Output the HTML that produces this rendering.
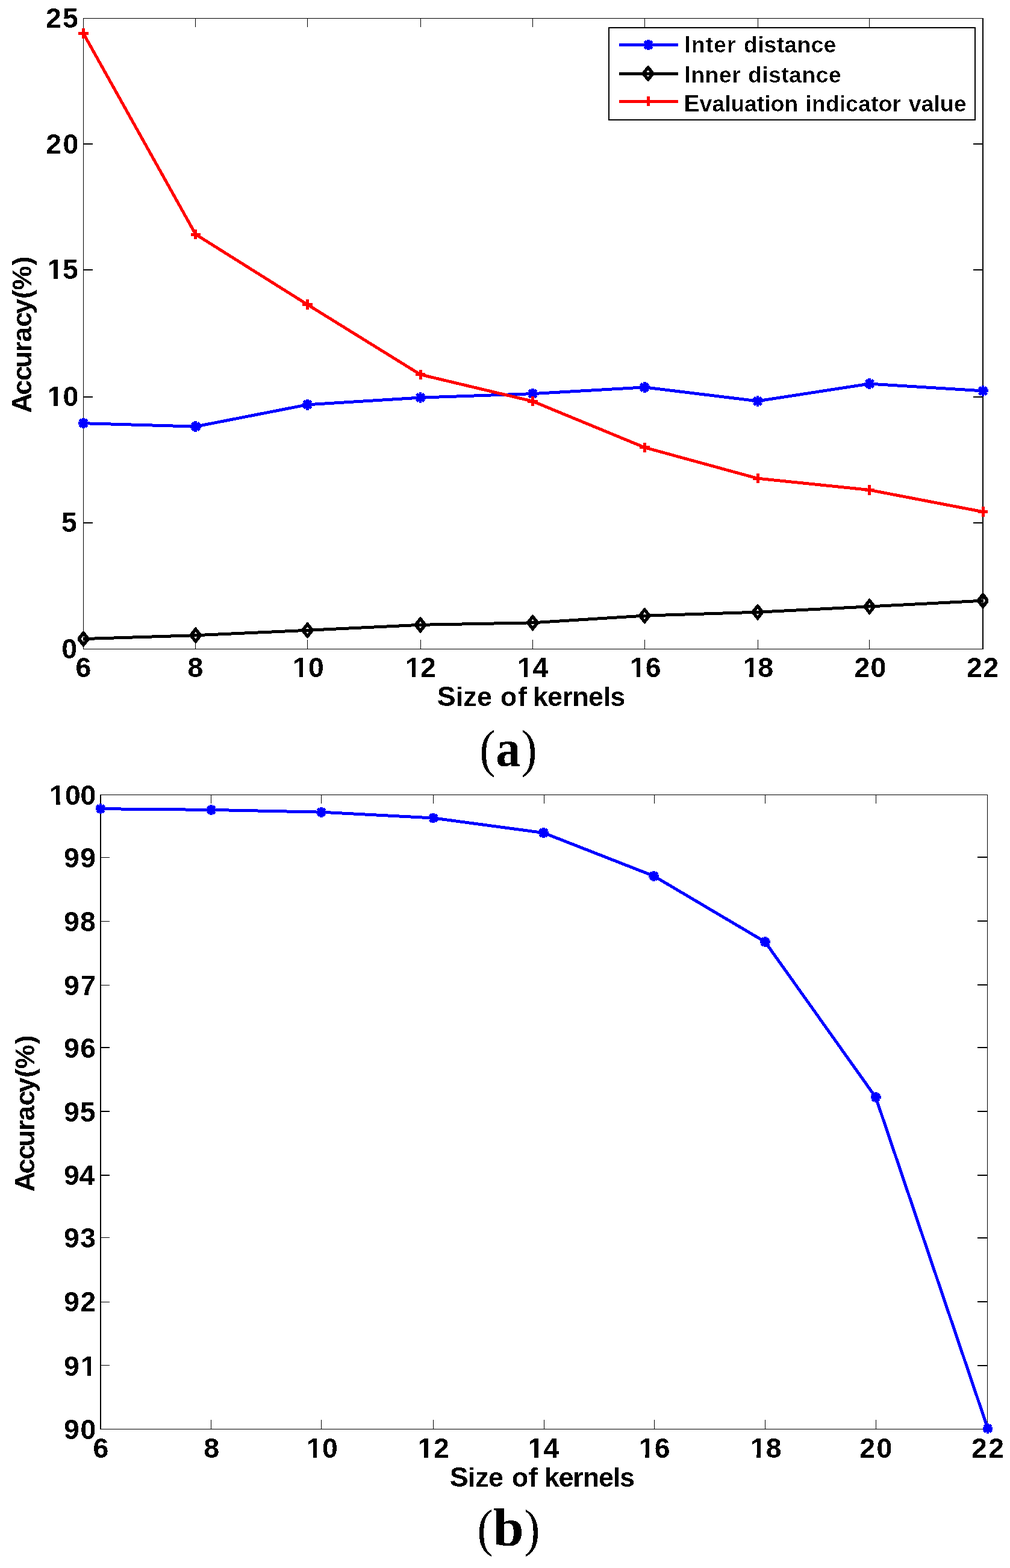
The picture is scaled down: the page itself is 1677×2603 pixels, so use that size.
<!DOCTYPE html>
<html lang="en">
<head>
<meta charset="utf-8">
<title>Size of kernels vs. accuracy</title>
<style>
html,body{margin:0;padding:0;background:#fff;}
body{width:1677px;height:2603px;}
svg{display:block;}
svg .axes rect,svg .series polyline,svg .series path,svg .legend rect,svg .legend path{shape-rendering:crispEdges;}
svg text{font-family:"Liberation Sans",Arial,Helvetica,sans-serif;font-weight:bold;fill:#000;font-kerning:none;white-space:pre;}
svg g.txt{filter:url(#crisp);}
svg g.thin{filter:url(#crisp-thin);}
svg text.cap{font-family:"Liberation Serif","Times New Roman",serif;font-weight:normal;}
svg path.dm{shape-rendering:geometricPrecision!important;filter:url(#crisp-m);}
</style>
</head>
<body>
<svg width="1677" height="2603" viewBox="0 0 1677 2603" role="img" aria-label="Two line charts: (a) inter distance, inner distance and evaluation indicator value versus size of kernels; (b) accuracy versus size of kernels">
<defs>
<filter id="crisp" filterUnits="userSpaceOnUse" x="0" y="0" width="1677" height="2603" color-interpolation-filters="sRGB">
<feComponentTransfer><feFuncA type="discrete" tableValues="0 0 0 0 0 1 1 1 1 1"/></feComponentTransfer>
</filter>
<filter id="crisp-thin" filterUnits="userSpaceOnUse" x="0" y="0" width="1677" height="2603" color-interpolation-filters="sRGB">
<feComponentTransfer><feFuncA type="discrete" tableValues="0 0 0 0 0 0 0 1 1 1"/></feComponentTransfer>
</filter>
<filter id="crisp-m" x="-25%" y="-25%" width="150%" height="150%" color-interpolation-filters="sRGB">
<feComponentTransfer><feFuncA type="discrete" tableValues="0 0 0 0 0 1 1 1 1 1"/></feComponentTransfer>
</filter>
<clipPath id="k1" clipPathUnits="userSpaceOnUse"><path clip-rule="evenodd" d="M58.53 403.1H149.44V493.1H58.53ZM79 457H89V466.1H79ZM96 457H106V466.1H96Z"/></clipPath>
<clipPath id="k2" clipPathUnits="userSpaceOnUse"><path clip-rule="evenodd" d="M58.53 614.4H150.67V704.4H58.53ZM79 668H89V677.4H79ZM96 668H106V677.4H96Z"/></clipPath>
<clipPath id="k3" clipPathUnits="userSpaceOnUse"><path clip-rule="evenodd" d="M465.93 1063.8H558.27V1153.8H465.93ZM486 1118H497V1126.8H486ZM503 1118H513V1126.8H503Z"/></clipPath>
<clipPath id="k4" clipPathUnits="userSpaceOnUse"><path clip-rule="evenodd" d="M653.23 1063.8H742.88V1153.8H653.23ZM674 1118H684V1126.8H674ZM690 1118H700V1126.8H690Z"/></clipPath>
<clipPath id="k5" clipPathUnits="userSpaceOnUse"><path clip-rule="evenodd" d="M839.23 1063.8H929.66V1153.8H839.23ZM860 1118H870V1126.8H860ZM876 1118H886V1126.8H876Z"/></clipPath>
<clipPath id="k6" clipPathUnits="userSpaceOnUse"><path clip-rule="evenodd" d="M1025.93 1063.8H1117.81V1153.8H1025.93ZM1046 1118H1057V1126.8H1046ZM1063 1118H1073V1126.8H1063Z"/></clipPath>
<clipPath id="k7" clipPathUnits="userSpaceOnUse"><path clip-rule="evenodd" d="M1213.63 1063.8H1302.82V1153.8H1213.63ZM1234 1118H1244V1126.8H1234ZM1251 1118H1261V1126.8H1251Z"/></clipPath>
<clipPath id="k8" clipPathUnits="userSpaceOnUse"><path clip-rule="evenodd" d="M62.33 1275.8H179.08V1365.8H62.33ZM83 1330H93V1338.8H83ZM100 1330H109V1338.8H100Z"/></clipPath>
<clipPath id="k9" clipPathUnits="userSpaceOnUse"><path clip-rule="evenodd" d="M85.99 2223.5H182.02V2313.5H85.99ZM134 2277H145V2286.5H134ZM151 2277H161V2286.5H151Z"/></clipPath>
<clipPath id="k10" clipPathUnits="userSpaceOnUse"><path clip-rule="evenodd" d="M489.03 2359.8H580.77V2449.8H489.03ZM509 2414H520V2422.8H509ZM526 2414H536V2422.8H526Z"/></clipPath>
<clipPath id="k11" clipPathUnits="userSpaceOnUse"><path clip-rule="evenodd" d="M673.53 2359.8H766.58V2449.8H673.53ZM694 2414H704V2422.8H694ZM711 2414H721V2422.8H711Z"/></clipPath>
<clipPath id="k12" clipPathUnits="userSpaceOnUse"><path clip-rule="evenodd" d="M856.53 2359.8H948.36V2449.8H856.53ZM877 2414H887V2422.8H877ZM894 2414H904V2422.8H894Z"/></clipPath>
<clipPath id="k13" clipPathUnits="userSpaceOnUse"><path clip-rule="evenodd" d="M1040.63 2359.8H1133.11V2449.8H1040.63ZM1061 2414H1071V2422.8H1061ZM1078 2414H1088V2422.8H1078Z"/></clipPath>
<clipPath id="k14" clipPathUnits="userSpaceOnUse"><path clip-rule="evenodd" d="M1225.63 2359.8H1317.82V2449.8H1225.63ZM1246 2414H1256V2422.8H1246ZM1263 2414H1273V2422.8H1263Z"/></clipPath>
</defs>
<rect x="0" y="0" width="1677" height="2603" fill="#fff"/>
<g id="chart-a">
<g class="axes">
<rect x="138" y="30" width="1495.2" height="1" fill="#000"/>
<rect x="138" y="1077" width="1495.2" height="1" fill="#000"/>
<rect x="138" y="30.5" width="1" height="1047" fill="#000"/>
<rect x="1631.2" y="30.5" width="2" height="1047" fill="#000"/>
<rect x="324.3" y="30.5" width="1" height="14.5" fill="#000"/>
<rect x="324.3" y="1062.3" width="1" height="15.2" fill="#000"/>
<rect x="510" y="30.5" width="1" height="14.5" fill="#000"/>
<rect x="510" y="1062.3" width="1" height="15.2" fill="#000"/>
<rect x="697.5" y="30.5" width="1" height="14.5" fill="#000"/>
<rect x="697.5" y="1062.3" width="1" height="15.2" fill="#000"/>
<rect x="884" y="30.5" width="1" height="14.5" fill="#000"/>
<rect x="884" y="1062.3" width="1" height="15.2" fill="#000"/>
<rect x="1069.8" y="30.5" width="1" height="14.5" fill="#000"/>
<rect x="1069.8" y="1062.3" width="1" height="15.2" fill="#000"/>
<rect x="1257.5" y="30.5" width="1" height="14.5" fill="#000"/>
<rect x="1257.5" y="1062.3" width="1" height="15.2" fill="#000"/>
<rect x="1443.2" y="30.5" width="1" height="14.5" fill="#000"/>
<rect x="1443.2" y="1062.3" width="1" height="15.2" fill="#000"/>
<rect x="138.5" y="238" width="15.2" height="2" fill="#000"/>
<rect x="1616.4" y="238" width="15.8" height="2" fill="#000"/>
<rect x="138.5" y="447" width="15.2" height="2" fill="#000"/>
<rect x="1616.4" y="447" width="15.8" height="2" fill="#000"/>
<rect x="138.5" y="658" width="15.2" height="2" fill="#000"/>
<rect x="1616.4" y="658" width="15.8" height="2" fill="#000"/>
<rect x="138.5" y="867" width="15.2" height="2" fill="#000"/>
<rect x="1616.4" y="867" width="15.8" height="2" fill="#000"/>
</g>
<g class="series">
<polyline fill="none" stroke="#00f" stroke-width="5" stroke-linejoin="round" points="138.5,702.7 324.8,708.1 510.5,671.8 698,660.1 884.5,653.6 1070.3,642.9 1258,665.8 1443.7,637.1 1632,648.9"/>
<polyline fill="none" stroke="#000" stroke-width="5" stroke-linejoin="round" points="138.5,1060.6 324.8,1054.7 510.5,1046.3 698,1037.3 884.5,1033.8 1070.3,1022.1 1258,1016.2 1443.7,1006.9 1632,997.2"/>
<polyline fill="none" stroke="#f00" stroke-width="5" stroke-linejoin="round" points="138.5,55.5 324.8,389 510.5,505.6 698,621.8 884.5,666.2 1070.3,742.8 1258,794.2 1443.7,813.4 1632,849.6"/>
<path d="M129.8 702.7H147.2M138.5 694V711.4M132.24 696.44L144.76 708.96M132.24 708.96L144.76 696.44" stroke="#00f" stroke-width="4.9" fill="none"/>
<circle cx="138.5" cy="702.7" r="6.61" fill="#00f"/>
<path d="M316.1 708.1H333.5M324.8 699.4V716.8M318.54 701.84L331.06 714.36M318.54 714.36L331.06 701.84" stroke="#00f" stroke-width="4.9" fill="none"/>
<circle cx="324.8" cy="708.1" r="6.61" fill="#00f"/>
<path d="M501.8 671.8H519.2M510.5 663.1V680.5M504.24 665.54L516.76 678.06M504.24 678.06L516.76 665.54" stroke="#00f" stroke-width="4.9" fill="none"/>
<circle cx="510.5" cy="671.8" r="6.61" fill="#00f"/>
<path d="M689.3 660.1H706.7M698 651.4V668.8M691.74 653.84L704.26 666.36M691.74 666.36L704.26 653.84" stroke="#00f" stroke-width="4.9" fill="none"/>
<circle cx="698" cy="660.1" r="6.61" fill="#00f"/>
<path d="M875.8 653.6H893.2M884.5 644.9V662.3M878.24 647.34L890.76 659.86M878.24 659.86L890.76 647.34" stroke="#00f" stroke-width="4.9" fill="none"/>
<circle cx="884.5" cy="653.6" r="6.61" fill="#00f"/>
<path d="M1061.6 642.9H1079M1070.3 634.2V651.6M1064.04 636.64L1076.56 649.16M1064.04 649.16L1076.56 636.64" stroke="#00f" stroke-width="4.9" fill="none"/>
<circle cx="1070.3" cy="642.9" r="6.61" fill="#00f"/>
<path d="M1249.3 665.8H1266.7M1258 657.1V674.5M1251.74 659.54L1264.26 672.06M1251.74 672.06L1264.26 659.54" stroke="#00f" stroke-width="4.9" fill="none"/>
<circle cx="1258" cy="665.8" r="6.61" fill="#00f"/>
<path d="M1435 637.1H1452.4M1443.7 628.4V645.8M1437.44 630.84L1449.96 643.36M1437.44 643.36L1449.96 630.84" stroke="#00f" stroke-width="4.9" fill="none"/>
<circle cx="1443.7" cy="637.1" r="6.61" fill="#00f"/>
<path d="M1623.3 648.9H1640.7M1632 640.2V657.6M1625.74 642.64L1638.26 655.16M1625.74 655.16L1638.26 642.64" stroke="#00f" stroke-width="4.9" fill="none"/>
<circle cx="1632" cy="648.9" r="6.61" fill="#00f"/>
<path class="dm" fill-rule="evenodd" fill="#000" d="M129.2 1057.9L137.9 1047L139.1 1047L147.8 1057.9L147.8 1063.3L139.1 1074.2L137.9 1074.2L129.2 1063.3ZM134.6 1060.6L138.5 1054.6L142.4 1060.6L138.5 1066.6Z"/>
<path class="dm" fill-rule="evenodd" fill="#000" d="M315.5 1052L324.2 1041.1L325.4 1041.1L334.1 1052L334.1 1057.4L325.4 1068.3L324.2 1068.3L315.5 1057.4ZM320.9 1054.7L324.8 1048.7L328.7 1054.7L324.8 1060.7Z"/>
<path class="dm" fill-rule="evenodd" fill="#000" d="M501.2 1043.6L509.9 1032.7L511.1 1032.7L519.8 1043.6L519.8 1049L511.1 1059.9L509.9 1059.9L501.2 1049ZM506.6 1046.3L510.5 1040.3L514.4 1046.3L510.5 1052.3Z"/>
<path class="dm" fill-rule="evenodd" fill="#000" d="M688.7 1034.6L697.4 1023.7L698.6 1023.7L707.3 1034.6L707.3 1040L698.6 1050.9L697.4 1050.9L688.7 1040ZM694.1 1037.3L698 1031.3L701.9 1037.3L698 1043.3Z"/>
<path class="dm" fill-rule="evenodd" fill="#000" d="M875.2 1031.1L883.9 1020.2L885.1 1020.2L893.8 1031.1L893.8 1036.5L885.1 1047.4L883.9 1047.4L875.2 1036.5ZM880.6 1033.8L884.5 1027.8L888.4 1033.8L884.5 1039.8Z"/>
<path class="dm" fill-rule="evenodd" fill="#000" d="M1061 1019.4L1069.7 1008.5L1070.9 1008.5L1079.6 1019.4L1079.6 1024.8L1070.9 1035.7L1069.7 1035.7L1061 1024.8ZM1066.4 1022.1L1070.3 1016.1L1074.2 1022.1L1070.3 1028.1Z"/>
<path class="dm" fill-rule="evenodd" fill="#000" d="M1248.7 1013.5L1257.4 1002.6L1258.6 1002.6L1267.3 1013.5L1267.3 1018.9L1258.6 1029.8L1257.4 1029.8L1248.7 1018.9ZM1254.1 1016.2L1258 1010.2L1261.9 1016.2L1258 1022.2Z"/>
<path class="dm" fill-rule="evenodd" fill="#000" d="M1434.4 1004.2L1443.1 993.3L1444.3 993.3L1453 1004.2L1453 1009.6L1444.3 1020.5L1443.1 1020.5L1434.4 1009.6ZM1439.8 1006.9L1443.7 1000.9L1447.6 1006.9L1443.7 1012.9Z"/>
<path class="dm" fill-rule="evenodd" fill="#000" d="M1622.7 994.5L1631.4 983.6L1632.6 983.6L1641.3 994.5L1641.3 999.9L1632.6 1010.8L1631.4 1010.8L1622.7 999.9ZM1628.1 997.2L1632 991.2L1635.9 997.2L1632 1003.2Z"/>
<path d="M130.3 55.5H146.7M138.5 47.3V63.7" stroke="#f00" stroke-width="5" fill="none"/>
<path d="M316.6 389H333M324.8 380.8V397.2" stroke="#f00" stroke-width="5" fill="none"/>
<path d="M502.3 505.6H518.7M510.5 497.4V513.8" stroke="#f00" stroke-width="5" fill="none"/>
<path d="M689.8 621.8H706.2M698 613.6V630" stroke="#f00" stroke-width="5" fill="none"/>
<path d="M876.3 666.2H892.7M884.5 658V674.4" stroke="#f00" stroke-width="5" fill="none"/>
<path d="M1062.1 742.8H1078.5M1070.3 734.6V751" stroke="#f00" stroke-width="5" fill="none"/>
<path d="M1249.8 794.2H1266.2M1258 786V802.4" stroke="#f00" stroke-width="5" fill="none"/>
<path d="M1435.5 813.4H1451.9M1443.7 805.2V821.6" stroke="#f00" stroke-width="5" fill="none"/>
<path d="M1623.8 849.6H1640.2M1632 841.4V857.8" stroke="#f00" stroke-width="5" fill="none"/>
</g>
<g class="legend">
<rect class="box" x="1011" y="46" width="607.5" height="153" fill="#fff" stroke="#000" stroke-width="2"/>
<rect x="1028" y="72" width="98" height="5" fill="#00f"/>
<rect x="1028" y="119.9" width="98" height="5" fill="#000"/>
<rect x="1028" y="166" width="98" height="5" fill="#f00"/>
<path d="M1067.5 74.4H1084.9M1076.2 65.7V83.1M1069.94 68.14L1082.46 80.66M1069.94 80.66L1082.46 68.14" stroke="#00f" stroke-width="4.9" fill="none"/>
<circle cx="1076.2" cy="74.4" r="6.61" fill="#00f"/>
<path class="dm" fill-rule="evenodd" fill="#000" d="M1066.8 119.3L1075.5 108.4L1076.7 108.4L1085.4 119.3L1085.4 124.7L1076.7 135.6L1075.5 135.6L1066.8 124.7ZM1072.2 122L1076.1 116L1080 122L1076.1 128Z"/>
<path d="M1068.3 168.2H1084.7M1076.5 160V176.4" stroke="#f00" stroke-width="5" fill="none"/>
<g class="txt thin">
<text y="87" font-size="37.6"><tspan x="1136.09" style="letter-spacing:0.88px"><tspan font-size="39">I</tspan>nter </tspan><tspan x="1234.86" style="letter-spacing:0.17px">distance</tspan></text>
<text y="136.9" font-size="37.6"><tspan x="1136.09" style="letter-spacing:0.32px"><tspan font-size="39">I</tspan>nner </tspan><tspan x="1242.06" style="letter-spacing:0.31px">distance</tspan></text>
<text y="184.6" font-size="37.6"><tspan x="1135.59" style="letter-spacing:-0.14px"><tspan font-size="39">E</tspan>valuation </tspan><tspan x="1337.17" style="letter-spacing:0.04px">indicator </tspan><tspan x="1508.75" style="letter-spacing:-0.05px">value</tspan></text>
</g>
</g>
<g class="txt">
<g class="ticks">
<text x="75.89" y="45.8" font-size="46.4" style="letter-spacing:2.39px">25</text>
<text x="76.19" y="254.8" font-size="46.4" style="letter-spacing:2.6px">20</text>
<text x="78.53" y="463.1" font-size="46.4" style="letter-spacing:-0.35px" clip-path="url(#k1)">15</text>
<text x="78.53" y="674.4" font-size="46.4" style="letter-spacing:0.26px" clip-path="url(#k2)">10</text>
<text x="102.08" y="882.6" font-size="46.4">5</text>
<text x="102.23" y="1093.4" font-size="46.4">0</text>
<text x="125.59" y="1123.8" font-size="46.4">6</text>
<text x="311.62" y="1123.8" font-size="46.4">8</text>
<text x="485.93" y="1123.8" font-size="46.4" style="letter-spacing:0.36px" clip-path="url(#k3)">10</text>
<text x="673.23" y="1123.8" font-size="46.4" style="letter-spacing:-0.98px" clip-path="url(#k4)">12</text>
<text x="859.23" y="1123.8" font-size="46.4" style="letter-spacing:-0.59px" clip-path="url(#k5)">14</text>
<text x="1045.93" y="1123.8" font-size="46.4" style="letter-spacing:0.14px" clip-path="url(#k6)">16</text>
<text x="1233.63" y="1123.8" font-size="46.4" style="letter-spacing:-1.21px" clip-path="url(#k7)">18</text>
<text x="1418.49" y="1123.8" font-size="46.4" style="letter-spacing:1.2px">20</text>
<text x="1604.89" y="1123.8" font-size="46.4" style="letter-spacing:1.86px">22</text>
</g>
<text y="1171.6" font-size="45"><tspan x="725.66" style="letter-spacing:0.13px"><tspan font-size="46.4">S</tspan>ize </tspan><tspan x="830.74" style="letter-spacing:1.6px">of </tspan><tspan x="884.76" style="letter-spacing:-0.67px">kernels</tspan></text>
<text transform="translate(52 686) rotate(-90)" x="0.3 30.29 53.82 75.39 101.6 118.28 143.27 165.03 189.91 204.53 245.61" y="0" font-size="45"><tspan font-size="46.4">A</tspan>ccuracy(%)</text>
<text class="cap" y="1272.3" font-size="86.1"><tspan x="796.33" font-size="86.1" textLength="26.32" lengthAdjust="spacingAndGlyphs">(</tspan><tspan x="823.35" font-size="86" textLength="41.09" lengthAdjust="spacingAndGlyphs" font-weight="bold">a</tspan><tspan x="865.48" font-size="86.1" textLength="26.06" lengthAdjust="spacingAndGlyphs">)</tspan></text>
</g>
</g>
<g id="chart-b">
<g class="axes">
<rect x="166" y="1319" width="1474.3" height="1" fill="#000"/>
<rect x="166" y="2371.5" width="1474.3" height="1" fill="#000"/>
<rect x="166" y="1319.5" width="2" height="1052.5" fill="#000"/>
<rect x="1638.9" y="1319.5" width="1.4" height="1052.5" fill="#000"/>
<rect x="349.7" y="1319.5" width="1" height="14.6" fill="#000"/>
<rect x="349.7" y="2356.8" width="1" height="15.2" fill="#000"/>
<rect x="533" y="1319.5" width="1" height="14.6" fill="#000"/>
<rect x="533" y="2356.8" width="1" height="15.2" fill="#000"/>
<rect x="718.5" y="1319.5" width="1" height="14.6" fill="#000"/>
<rect x="718.5" y="2356.8" width="1" height="15.2" fill="#000"/>
<rect x="902.5" y="1319.5" width="1" height="14.6" fill="#000"/>
<rect x="902.5" y="2356.8" width="1" height="15.2" fill="#000"/>
<rect x="1085.6" y="1319.5" width="1" height="14.6" fill="#000"/>
<rect x="1085.6" y="2356.8" width="1" height="15.2" fill="#000"/>
<rect x="1270.3" y="1319.5" width="1" height="14.6" fill="#000"/>
<rect x="1270.3" y="2356.8" width="1" height="15.2" fill="#000"/>
<rect x="1454" y="1319.5" width="1" height="14.6" fill="#000"/>
<rect x="1454" y="2356.8" width="1" height="15.2" fill="#000"/>
<rect x="167" y="1422.6" width="14.6" height="1" fill="#000"/>
<rect x="1623.2" y="1422.1" width="16.4" height="2" fill="#000"/>
<rect x="167" y="1528.9" width="14.6" height="1" fill="#000"/>
<rect x="1623.2" y="1528.4" width="16.4" height="2" fill="#000"/>
<rect x="167" y="1634.9" width="14.6" height="1" fill="#000"/>
<rect x="1623.2" y="1634.4" width="16.4" height="2" fill="#000"/>
<rect x="167" y="1737.9" width="14.6" height="2" fill="#000"/>
<rect x="1623.2" y="1737.9" width="16.4" height="2" fill="#000"/>
<rect x="167" y="1843.9" width="14.6" height="2" fill="#000"/>
<rect x="1623.2" y="1843.9" width="16.4" height="2" fill="#000"/>
<rect x="167" y="1949.8" width="14.6" height="2" fill="#000"/>
<rect x="1623.2" y="1949.8" width="16.4" height="2" fill="#000"/>
<rect x="167" y="2054.3" width="14.6" height="1" fill="#000"/>
<rect x="1623.2" y="2053.8" width="16.4" height="2" fill="#000"/>
<rect x="167" y="2160.7" width="14.6" height="1" fill="#000"/>
<rect x="1623.2" y="2160.2" width="16.4" height="2" fill="#000"/>
<rect x="167" y="2266.4" width="14.6" height="1" fill="#000"/>
<rect x="1623.2" y="2265.9" width="16.4" height="2" fill="#000"/>
</g>
<g class="series">
<polyline fill="none" stroke="#00f" stroke-width="5" stroke-linejoin="round" points="167,1342.7 350.8,1344.4 533.6,1348.2 719.6,1358 902.5,1382.6 1085.7,1454.3 1270.4,1563.6 1454.1,1821.7 1640,2371.2"/>
<path d="M158.6 1342.7H175.4M167 1334.3V1351.1M160.95 1336.65L173.05 1348.75M160.95 1348.75L173.05 1336.65" stroke="#00f" stroke-width="4.9" fill="none"/>
<circle cx="167" cy="1342.7" r="6.38" fill="#00f"/>
<path d="M342.4 1344.4H359.2M350.8 1336V1352.8M344.75 1338.35L356.85 1350.45M344.75 1350.45L356.85 1338.35" stroke="#00f" stroke-width="4.9" fill="none"/>
<circle cx="350.8" cy="1344.4" r="6.38" fill="#00f"/>
<path d="M525.2 1348.2H542M533.6 1339.8V1356.6M527.55 1342.15L539.65 1354.25M527.55 1354.25L539.65 1342.15" stroke="#00f" stroke-width="4.9" fill="none"/>
<circle cx="533.6" cy="1348.2" r="6.38" fill="#00f"/>
<path d="M711.2 1358H728M719.6 1349.6V1366.4M713.55 1351.95L725.65 1364.05M713.55 1364.05L725.65 1351.95" stroke="#00f" stroke-width="4.9" fill="none"/>
<circle cx="719.6" cy="1358" r="6.38" fill="#00f"/>
<path d="M894.1 1382.6H910.9M902.5 1374.2V1391M896.45 1376.55L908.55 1388.65M896.45 1388.65L908.55 1376.55" stroke="#00f" stroke-width="4.9" fill="none"/>
<circle cx="902.5" cy="1382.6" r="6.38" fill="#00f"/>
<path d="M1077.3 1454.3H1094.1M1085.7 1445.9V1462.7M1079.65 1448.25L1091.75 1460.35M1079.65 1460.35L1091.75 1448.25" stroke="#00f" stroke-width="4.9" fill="none"/>
<circle cx="1085.7" cy="1454.3" r="6.38" fill="#00f"/>
<path d="M1262 1563.6H1278.8M1270.4 1555.2V1572M1264.35 1557.55L1276.45 1569.65M1264.35 1569.65L1276.45 1557.55" stroke="#00f" stroke-width="4.9" fill="none"/>
<circle cx="1270.4" cy="1563.6" r="6.38" fill="#00f"/>
<path d="M1445.7 1821.7H1462.5M1454.1 1813.3V1830.1M1448.05 1815.65L1460.15 1827.75M1448.05 1827.75L1460.15 1815.65" stroke="#00f" stroke-width="4.9" fill="none"/>
<circle cx="1454.1" cy="1821.7" r="6.38" fill="#00f"/>
<path d="M1631.6 2371.2H1648.4M1640 2362.8V2379.6M1633.95 2365.15L1646.05 2377.25M1633.95 2377.25L1646.05 2365.15" stroke="#00f" stroke-width="4.9" fill="none"/>
<circle cx="1640" cy="2371.2" r="6.38" fill="#00f"/>
</g>
<g class="txt">
<g class="ticks">
<text x="82.33" y="1335.8" font-size="46.4" style="letter-spacing:-0.22px" clip-path="url(#k8)">100</text>
<text x="105.99" y="1439.7" font-size="46.4" style="letter-spacing:1.52px">99</text>
<text x="105.99" y="1545.7" font-size="46.4" style="letter-spacing:1.23px">98</text>
<text x="105.99" y="1651.8" font-size="46.4" style="letter-spacing:1.84px">97</text>
<text x="105.99" y="1755.5" font-size="46.4" style="letter-spacing:1.47px">96</text>
<text x="105.99" y="1861.6" font-size="46.4" style="letter-spacing:1.09px">95</text>
<text x="105.99" y="1967.1" font-size="46.4" style="letter-spacing:0.05px">94</text>
<text x="105.99" y="2071.4" font-size="46.4" style="letter-spacing:1.47px">93</text>
<text x="105.99" y="2177" font-size="46.4" style="letter-spacing:1.66px">92</text>
<text x="105.99" y="2283.5" font-size="46.4" style="letter-spacing:2.21px" clip-path="url(#k9)">91</text>
<text x="105.99" y="2389.4" font-size="46.4" style="letter-spacing:1.7px">90</text>
<text x="154.54" y="2419.8" font-size="46.4">6</text>
<text x="338.27" y="2419.8" font-size="46.4">8</text>
<text x="509.03" y="2419.8" font-size="46.4" style="letter-spacing:0.06px" clip-path="url(#k10)">10</text>
<text x="693.53" y="2419.8" font-size="46.4" style="letter-spacing:0.72px" clip-path="url(#k11)">12</text>
<text x="876.53" y="2419.8" font-size="46.4" style="letter-spacing:0.11px" clip-path="url(#k12)">14</text>
<text x="1060.63" y="2419.8" font-size="46.4" style="letter-spacing:0.44px" clip-path="url(#k13)">16</text>
<text x="1245.63" y="2419.8" font-size="46.4" style="letter-spacing:0.29px" clip-path="url(#k14)">18</text>
<text x="1427.19" y="2419.8" font-size="46.4" style="letter-spacing:2.6px">20</text>
<text x="1612.89" y="2419.8" font-size="46.4" style="letter-spacing:2.56px">22</text>
</g>
<text y="2467.8" font-size="45"><tspan x="746.66" style="letter-spacing:-0.5px"><tspan font-size="46.4">S</tspan>ize </tspan><tspan x="849.64" style="letter-spacing:0.5px">of </tspan><tspan x="903.76" style="letter-spacing:-1.22px">kernels</tspan></text>
<text transform="translate(57 1978) rotate(-90)" x="-0.5 29.49 53.02 74.59 100.8 117.48 142.47 164.23 189.11 203.73 244.81" y="0" font-size="45"><tspan font-size="46.4">A</tspan>ccuracy(%)</text>
<text class="cap" y="2566.2" font-size="86.1"><tspan x="792.56" font-size="86.1" textLength="26.06" lengthAdjust="spacingAndGlyphs">(</tspan><tspan x="818.63" font-size="89.7" textLength="51.2" lengthAdjust="spacingAndGlyphs" font-weight="bold">b</tspan><tspan x="870.37" font-size="86.1" textLength="26.19" lengthAdjust="spacingAndGlyphs">)</tspan></text>
</g>
</g>
</svg>
</body>
</html>
